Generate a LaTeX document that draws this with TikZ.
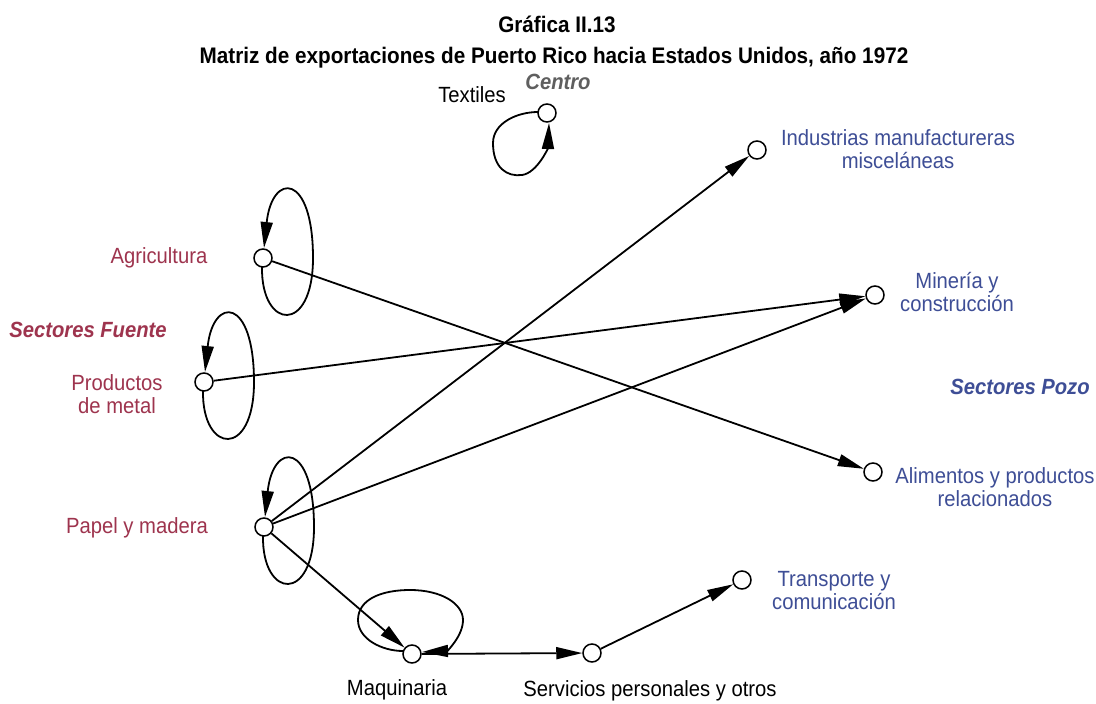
\documentclass[tikz,border=0pt]{standalone}
\usepackage{fontspec}
\setmainfont{Liberation Sans}[FakeStretch=0.92]
\usetikzlibrary{arrows.meta}
\definecolor{srcred}{RGB}{158,52,78}
\definecolor{sinkblue}{RGB}{62,78,150}
\definecolor{ctrgray}{RGB}{95,95,95}
\begin{document}
\begin{tikzpicture}[x=1pt,y=-1pt,
  vert/.style={circle,draw,line width=1.5pt,minimum size=18pt,inner sep=0pt,fill=white},
  arr/.style={line width=1.8pt,-{Triangle[length=26pt,width=12pt]}},
  lbl/.style={font=\fontsize{22}{23}\selectfont,inner sep=0pt,align=center},
  srclbl/.style={lbl,text=srcred},
  sinklbl/.style={lbl,text=sinkblue},
  ttl/.style={font=\fontsize{22.5}{25}\selectfont\bfseries,inner sep=0pt}]
\useasboundingbox[fill=white] (0,0) rectangle (1096,704);

% titles
\node[ttl] (t1) at (557,24) {Gráfica II.13};
\node[ttl] (t2) at (554,58) {Matriz de exportaciones de Puerto Rico hacia Estados Unidos, año 1972};

% group labels
\node[lbl,text=ctrgray,font=\fontsize{22}{23}\selectfont\bfseries\itshape] (gc) at (558,82) {Centro};
\node[lbl,text=srcred,font=\fontsize{22}{23}\selectfont\bfseries\itshape] (gf) at (88,330) {Sectores Fuente};
\node[lbl,text=sinkblue,font=\fontsize{22}{23}\selectfont\bfseries\itshape] (gp) at (1020,387) {Sectores Pozo};

% vertices
\node[vert] (tex) at (547,113) {};
\node[vert] (ind) at (757,150) {};
\node[vert] (agr) at (263,258) {};
\node[vert] (min) at (875,295) {};
\node[vert] (pro) at (204,382) {};
\node[vert] (ali) at (873,472) {};
\node[vert] (pap) at (264,527) {};
\node[vert] (tra) at (742,580) {};
\node[vert] (maq) at (412,654) {};
\node[vert] (ser) at (592,653) {};

% vertex labels
\node[lbl] (ltex) at (472,95) {Textiles};
\node[sinklbl] (lind) at (898,149) {Industrias manufactureras\\misceláneas};
\node[srclbl] (lagr) at (159,258) {Agricultura};
\node[sinklbl] (lmin) at (957,292) {Minería y\\construcción};
\node[srclbl] (lpro) at (117,394) {Productos\\de metal};
\node[sinklbl] (lali) at (995,487) {Alimentos y productos\\relacionados};
\node[srclbl] (lpap) at (137,528) {Papel y madera};
\node[sinklbl] (ltra) at (834,591) {Transporte y\\comunicación};
\node[lbl] (lmaq) at (397,690) {Maquinaria};
\node[lbl] (lser) at (650,691) {Servicios personales y otros};

% edges
\draw[arr] (pap) -- (ind);
\draw[arr] (pap) -- (min);
\draw[arr] (pro) -- (min);
\draw[arr] (agr) -- (ali);
\draw[arr] (pap) -- (maq);
\draw[arr] (maq) -- (ser);
\draw[arr] (ser) -- (tra);

% self loops
\foreach \v in {agr,pro,pap}{
  \draw[arr,shift={(\v)}] (-1,9) .. controls (-2,72) and (50,77) .. (50,0)
     .. controls (50,-86) and (9,-86) .. (1,-10);
}
\draw[arr,shift={(tex)}] (-9,-1) .. controls (-30,-1) and (-54,10) .. (-54,30)
   .. controls (-54,55) and (-40,64) .. (-25,62)
   .. controls (-10,60) and (1,35) .. (2,10);
\draw[arr,shift={(maq)}] (-9,-3) .. controls (-30,-3) and (-54,-15) .. (-54,-34)
   .. controls (-54,-55) and (-30,-64) .. (-2,-64)
   .. controls (30,-64) and (51,-50) .. (51,-34)
   .. controls (51,-18) and (35,-3) .. (10,-2);
\end{tikzpicture}
\end{document}
